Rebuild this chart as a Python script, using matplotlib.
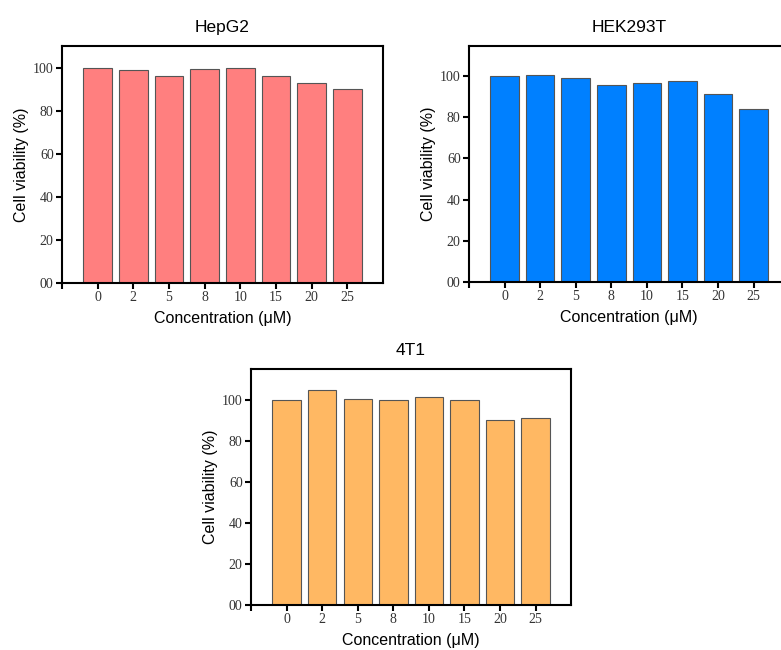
import numpy as np
import matplotlib
matplotlib.use('Agg')
import matplotlib.pyplot as plt

# Data
concentrations = ['0', '2', '5', '8', '10', '15', '20', '25']
hepg2 = [100.0, 98.8, 96.3, 99.5, 100.0, 96.3, 93.0, 90.0]
hek293t = [100.0, 100.6, 99.0, 95.5, 96.8, 97.6, 91.3, 84.1]
t41 = [100.0, 104.7, 100.5, 100.0, 101.6, 100.0, 90.1, 91.2]

y_ticks = [0, 20, 40, 60, 80, 100]
y_tick_labels = ['00', '20', '40', '60', '80', '100']


def draw_panel(ax, values, color, title, ytop):
    x = np.arange(len(concentrations))
    ax.bar(x, values, width=0.8, color=color, edgecolor='#555555', linewidth=0.8)
    ax.set_xlim(-1, len(concentrations))
    ax.set_ylim(0, ytop)

    # x ticks: one at the left corner plus one per category
    ax.set_xticks([-1] + list(x))
    ax.set_xticklabels([''] + concentrations, fontfamily='Liberation Serif',
                       fontsize=10, color='#333333')
    ax.set_yticks(y_ticks)
    ax.set_yticklabels(y_tick_labels, fontfamily='Liberation Serif',
                       fontsize=10, color='#333333')
    ax.tick_params(direction='out', length=4, width=1.5, pad=2)

    for s in ax.spines.values():
        s.set_linewidth(1.5)
        s.set_color('black')

    ax.set_title(title, fontfamily='Liberation Sans', fontsize=12.5, pad=10)
    ax.set_xlabel('Concentration (\u03bcM)', fontfamily='Liberation Sans',
                  fontsize=11.5, labelpad=5)
    ax.set_ylabel('Cell viability (%)', fontfamily='Liberation Sans',
                  fontsize=11.5, labelpad=3)


fig = plt.figure(figsize=(7.81, 6.5), dpi=100)

ax1 = fig.add_axes([0.0794, 0.5646, 0.411, 0.3646])
draw_panel(ax1, hepg2, '#FF7F7F', 'HepG2', 110)

ax2 = fig.add_axes([0.6005, 0.566, 0.41, 0.363])
draw_panel(ax2, hek293t, '#0080FF', 'HEK293T', 114.5)

ax3 = fig.add_axes([0.3214, 0.0692, 0.41, 0.363])
draw_panel(ax3, t41, '#FFB863', '4T1', 115)

fig.savefig('out.png', dpi=100)
